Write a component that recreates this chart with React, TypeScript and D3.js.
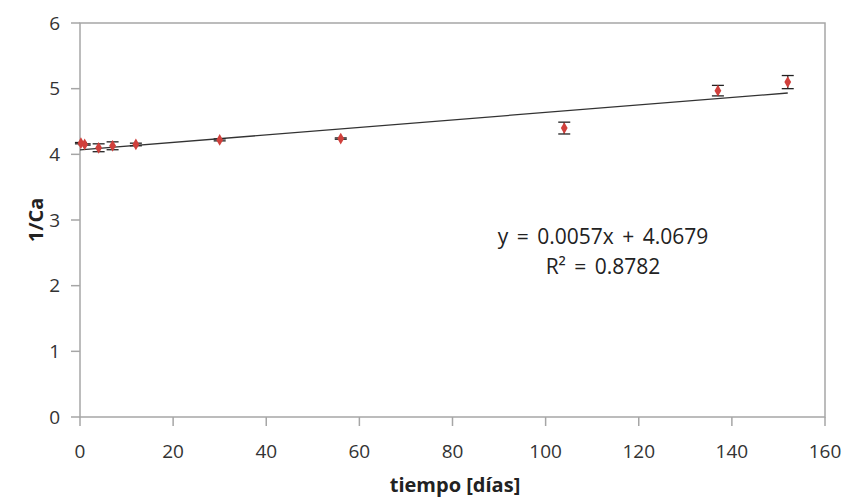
import React from 'react';
import * as d3 from 'd3';

const days = [0.2, 1, 4, 7, 12, 30, 56, 104, 137, 152];
const invCa = [4.17, 4.15, 4.10, 4.13, 4.15, 4.22, 4.24, 4.40, 4.97, 5.10];
const errors = [0.01, 0.01, 0.06, 0.06, 0.02, 0.015, 0.01, 0.09, 0.08, 0.1];
const xTicks = [0, 20, 40, 60, 80, 100, 120, 140, 160];
const yTicks = [0, 1, 2, 3, 4, 5, 6];
const slope = 0.0057;
const intercept = 4.0679;

const App = () => {
  const width = 848;
  const height = 497;
  const margin = { top: 23, right: 23, bottom: 80, left: 80 };
  const x = d3.scaleLinear().domain([0, 160]).range([margin.left, width - margin.right]);
  const y = d3.scaleLinear().domain([0, 6]).range([height - margin.bottom, margin.top]);
  const axisColor = '#a6a6a6';
  const font = '"Open Sans", sans-serif';
  const trend = d3.line<number>().x(d => x(d)).y(d => y(slope * d + intercept));
  const diamond = d3.symbol().type(d3.symbolDiamond).size(40)();

  return (
    <svg width={width} height={height} style={{ position: 'absolute', left: 0, top: 0, background: '#fff' }}>
      {/* frame */}
      <rect x={x(0)} y={y(6)} width={x(160) - x(0)} height={y(0) - y(6)} fill="none" stroke={axisColor} strokeWidth={1.5} />
      {yTicks.map(t => (
        <g key={'y' + t}>
          <line x1={x(0) - 9} x2={x(0)} y1={y(t)} y2={y(t)} stroke={axisColor} strokeWidth={1.5} />
          <text x={60} y={y(t)} dy="0.35em" textAnchor="end" fontFamily={font} fontSize={19} fill="#333">{t}</text>
        </g>
      ))}
      {xTicks.map(t => (
        <g key={'x' + t}>
          <line x1={x(t)} x2={x(t)} y1={y(0)} y2={y(0) + 9} stroke={axisColor} strokeWidth={1.5} />
          <text x={x(t)} y={451} dy="0.35em" textAnchor="middle" fontFamily={font} fontSize={19} fill="#333">{t}</text>
        </g>
      ))}
      {/* trendline */}
      <path d={trend([0, 152]) || ''} fill="none" stroke="#333" strokeWidth={1.3} />
      {/* error bars */}
      {days.map((d, i) => (
        <g key={'e' + i} stroke="#222" strokeWidth={1.3}>
          <line x1={x(d)} x2={x(d)} y1={y(invCa[i] - errors[i])} y2={y(invCa[i] + errors[i])} />
          <line x1={x(d) - 6} x2={x(d) + 6} y1={y(invCa[i] - errors[i])} y2={y(invCa[i] - errors[i])} />
          <line x1={x(d) - 6} x2={x(d) + 6} y1={y(invCa[i] + errors[i])} y2={y(invCa[i] + errors[i])} />
        </g>
      ))}
      {days.map((d, i) => (
        <path key={'p' + i} d={diamond || ''} transform={`translate(${x(d)},${y(invCa[i])})`} fill="#d0403c" />
      ))}
      <text x={603} y={237} dy="0.35em" textAnchor="middle" fontFamily={font} fontSize={21} wordSpacing={3} fill="#222">
        y = 0.0057x + 4.0679
      </text>
      <text x={603} y={267} dy="0.35em" textAnchor="middle" fontFamily={font} fontSize={21} wordSpacing={3} fill="#222">
        R² = 0.8782
      </text>
      <text x={455} y={485} dy="0.35em" textAnchor="middle" fontFamily={font} fontSize={20} fontWeight="bold" fill="#222">
        tiempo [días]
      </text>
      <text transform={`translate(36,${(y(0) + y(6)) / 2}) rotate(-90)`} dy="0.35em" textAnchor="middle" fontFamily={font} fontSize={20} fontWeight="bold" fill="#222">
        1/Ca
      </text>
    </svg>
  );
};

export default App;
